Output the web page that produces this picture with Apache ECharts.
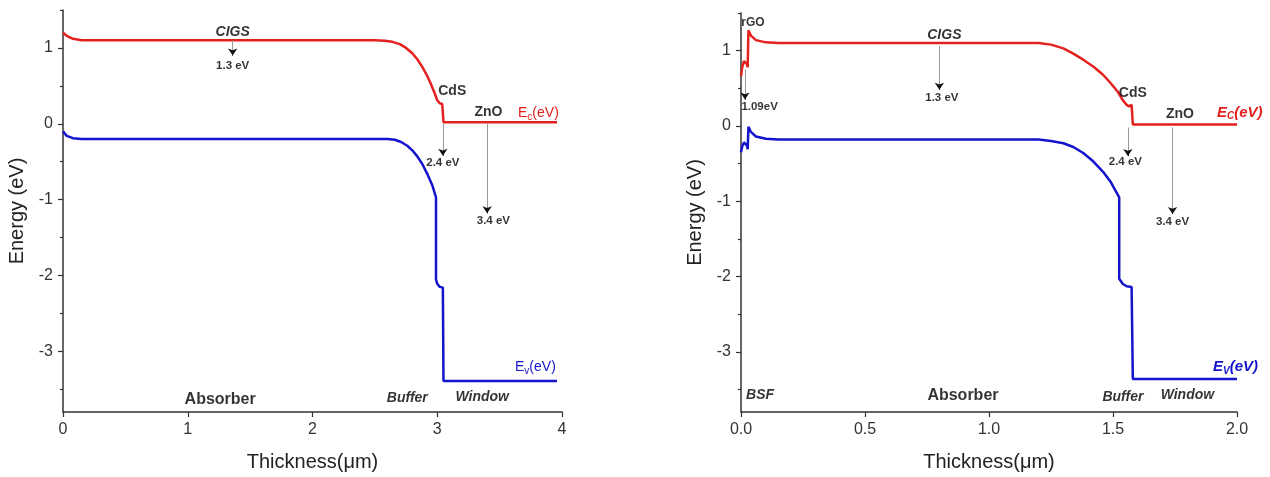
<!DOCTYPE html>
<html>
<head>
<meta charset="utf-8">
<script src="https://cdn.jsdelivr.net/npm/echarts@6/dist/echarts.min.js"></script>
<style>
  html, body { margin: 0; padding: 0; background: #fff; }
  #chart { width: 1270px; height: 477px; }
</style>
</head>
<body>
<div id="chart"></div>
<script>
// band edges, [thickness um, energy eV]
var leftEc = [[0, 1.20], [0.03, 1.16], [0.08, 1.12], [0.15, 1.10], [1.0, 1.10], [2.0, 1.10], [2.5, 1.10],
  [2.58, 1.095], [2.64, 1.08], [2.70, 1.05], [2.75, 1.00], [2.80, 0.93], [2.84, 0.85], [2.88, 0.75],
  [2.92, 0.63], [2.95, 0.52], [2.98, 0.40], [3.0, 0.31], [3.02, 0.27], [3.04, 0.26], [3.045, 0.28],
  [3.05, 0.25], [3.05, 0.02], [3.96, 0.02]];
var leftEv = [[0, -0.10], [0.03, -0.16], [0.08, -0.19], [0.15, -0.20], [1.0, -0.20], [2.0, -0.20], [2.6, -0.20],
  [2.66, -0.21], [2.71, -0.24], [2.76, -0.29], [2.80, -0.35], [2.84, -0.43], [2.88, -0.53], [2.92, -0.66],
  [2.96, -0.81], [2.99, -0.97], [2.99, -2.05], [3.0, -2.11], [3.02, -2.15], [3.045, -2.16], [3.05, -3.39],
  [3.96, -3.39]];
var rightEc = [[0, 0.66], [0.005, 0.78], [0.012, 0.86], [0.02, 0.88], [0.024, 0.82], [0.027, 0.78], [0.03, 1.27],
  [0.04, 1.20], [0.06, 1.14], [0.1, 1.11], [0.15, 1.10], [1.2, 1.10], [1.25, 1.08], [1.30, 1.03], [1.34, 0.96],
  [1.38, 0.88], [1.42, 0.79], [1.46, 0.68], [1.49, 0.57], [1.52, 0.45], [1.54, 0.34], [1.555, 0.28],
  [1.565, 0.26], [1.575, 0.28], [1.58, 0.02], [2.0, 0.02]];
var rightEv = [[0, -0.35], [0.005, -0.27], [0.012, -0.22], [0.02, -0.20], [0.024, -0.26], [0.027, -0.31], [0.03, -0.01],
  [0.04, -0.08], [0.06, -0.14], [0.1, -0.17], [0.15, -0.18], [1.2, -0.18], [1.25, -0.20], [1.30, -0.23],
  [1.34, -0.28], [1.38, -0.36], [1.42, -0.47], [1.46, -0.61], [1.49, -0.74], [1.525, -0.95], [1.525, -2.03],
  [1.54, -2.10], [1.555, -2.13], [1.575, -2.14], [1.58, -3.36], [2.0, -3.36]];

var yMajor = [-3, -2, -1, 0, 1];
var yMinor = [-3.5, -2.5, -1.5, -0.5, 0.5, 1.5];

// text notes [text, x, y, kind]
var leftNotes = [
  ['CIGS', 1.36, 1.21, 'bi'], ['1.3 eV', 1.36, 0.77, 'ev'], ['CdS', 3.12, 0.43, 'b'],
  ['ZnO', 3.41, 0.15, 'b'], ['2.4 eV', 3.045, -0.51, 'ev'], ['3.4 eV', 3.45, -1.28, 'ev'],
  ['Absorber', 1.26, -3.63, 'big'], ['Buffer', 2.76, -3.62, 'bi'], ['Window', 3.36, -3.60, 'bi']
];
var rightNotes = [
  ['rGO', 0.048, 1.37, 'b12'], ['1.09eV', 0.075, 0.25, 'ev'], ['CIGS', 0.82, 1.21, 'bi'],
  ['1.3 eV', 0.81, 0.375, 'ev'], ['CdS', 1.58, 0.43, 'b'], ['ZnO', 1.77, 0.155, 'b'],
  ['2.4 eV', 1.55, -0.48, 'ev'], ['3.4 eV', 1.74, -1.27, 'ev'],
  ['BSF', 0.077, -3.58, 'bi'], ['Absorber', 0.895, -3.58, 'big'], ['Buffer', 1.54, -3.60, 'bi'],
  ['Window', 1.80, -3.58, 'bi']
];
// arrows [x, yFrom, yTo]
var leftArrows = [[1.36, 1.10, 0.90], [3.045, 0.0, -0.42], [3.40, 0.0, -1.18]];
var rightArrows = [[0.016, 0.75, 0.35], [0.80, 1.06, 0.48], [1.56, -0.02, -0.40], [1.74, -0.02, -1.17]];

var FONT = '"Liberation Sans", Arial, sans-serif';
var RED = '#e3211f';
var BLUE = '#1414cc';

var kinds = {
  bi: { fontWeight: 'bold', fontStyle: 'italic', fontSize: 14 },
  b: { fontWeight: 'bold', fontSize: 14 },
  b12: { fontWeight: 'bold', fontSize: 12 },
  ev: { fontWeight: 'bold', fontSize: 11.5 },
  big: { fontWeight: 'bold', fontSize: 16 }
};

function noteSeries(notes, arrows, idx) {
  return {
    type: 'scatter',
    xAxisIndex: idx, yAxisIndex: idx * 2,
    symbolSize: 0, silent: true, z: 5,
    data: notes.map(function (n) {
      var k = kinds[n[3]];
      return {
        value: [n[1], n[2]],
        label: {
          show: true, position: 'inside', formatter: n[0], color: '#000',
          fontFamily: FONT, fontSize: k.fontSize, fontWeight: k.fontWeight, fontStyle: k.fontStyle || 'normal'
        }
      };
    }),
    markLine: {
      silent: true, animation: false, symbol: ['none', 'none'],
      lineStyle: { color: '#999', width: 1, type: 'solid' },
      label: { show: false },
      data: arrows.map(function (a) { return [{ coord: [a[0], a[1]] }, { coord: [a[0], a[2]] }]; })
    }
  };
}

function headSeries(arrows, idx) {
  return {
    type: 'line', xAxisIndex: idx, yAxisIndex: idx * 2, data: [], silent: true,
    markLine: {
      silent: true, animation: false, symbol: ['none', 'arrow'], symbolSize: 7,
      lineStyle: { color: '#111', width: 1, type: 'solid' },
      label: { show: false },
      data: arrows.map(function (a) { return [{ coord: [a[0], a[2] + 0.05] }, { coord: [a[0], a[2]] }]; })
    }
  };
}

function bandLine(data, color, idx, name, lbl) {
  return {
    type: 'line', name: name, xAxisIndex: idx, yAxisIndex: idx * 2,
    data: data, showSymbol: false, smooth: false, z: 3,
    lineStyle: { color: color, width: 2.5 },
    endLabel: lbl
  };
}

function subLabel(color, sub, emph, dx, dy) {
  return {
    show: true, distance: 4, offset: [dx, dy],
    formatter: '{n|E}{s|' + sub + '}{n|(eV)}',
    rich: {
      n: { color: color, fontFamily: FONT, fontSize: emph ? 15 : 14, fontWeight: emph ? 'bold' : 'normal', fontStyle: emph ? 'italic' : 'normal' },
      s: { color: color, fontFamily: FONT, fontSize: 10, fontWeight: emph ? 'bold' : 'normal', fontStyle: emph ? 'italic' : 'normal', padding: [8, 0, 0, 0] }
    }
  };
}

function yAxes(idx) {
  return [{
    type: 'value', gridIndex: idx, min: -3.8, max: 1.5,
    name: 'Energy (eV)', nameLocation: 'middle', nameGap: 36,
    nameTextStyle: { fontFamily: FONT, fontSize: 20, color: '#222' },
    axisLine: { show: true, lineStyle: { color: '#333', width: 1.5 } },
    axisTick: { show: true, customValues: yMajor, length: 5, lineStyle: { color: '#333', width: 1.2 } },
    axisLabel: { customValues: yMajor, fontFamily: FONT, fontSize: 16, color: '#333', margin: 10 },
    splitLine: { show: false }
  }, {
    type: 'value', gridIndex: idx, min: -3.8, max: 1.5, position: 'left',
    axisLine: { show: false },
    axisTick: { show: true, customValues: yMinor, length: 3, lineStyle: { color: '#333', width: 1.2 } },
    axisLabel: { show: false },
    splitLine: { show: false }
  }];
}

function xAxis(idx, max, interval, digits) {
  return {
    type: 'value', gridIndex: idx, min: 0, max: max, interval: interval,
    name: 'Thickness(\u03bcm)', nameLocation: 'middle', nameGap: 40,
    nameTextStyle: { fontFamily: FONT, fontSize: 20, color: '#222' },
    axisLine: { show: true, onZero: false, lineStyle: { color: '#333', width: 1.5 } },
    axisTick: { show: true, length: 5, lineStyle: { color: '#333', width: 1.2 } },
    axisLabel: {
      fontFamily: FONT, fontSize: 16, color: '#333', margin: 10,
      formatter: function (v) { return v.toFixed(digits); }
    },
    splitLine: { show: false }
  };
}

var chart = echarts.init(document.getElementById('chart'), null, { renderer: 'canvas' });
chart.setOption({
  animation: false,
  backgroundColor: '#fff',
  grid: [
    { left: 63, right: 708, top: 10, bottom: 65 },
    { left: 741, right: 33, top: 13, bottom: 65 }
  ],
  xAxis: [xAxis(0, 4, 1, 0), xAxis(1, 2, 0.5, 1)],
  yAxis: yAxes(0).concat(yAxes(1)),
  series: [
    bandLine(leftEc, RED, 0, 'Ec', subLabel(RED, 'c', false, -43, -9)),
    bandLine(leftEv, BLUE, 0, 'Ev', subLabel(BLUE, 'v', false, -46, -14)),
    bandLine(rightEc, RED, 1, 'Ec', subLabel(RED, 'C', true, -24, -12)),
    bandLine(rightEv, BLUE, 1, 'Ev', subLabel(BLUE, 'V', true, -28, -12)),
    noteSeries(leftNotes, leftArrows, 0),
    noteSeries(rightNotes, rightArrows, 1),
    headSeries(leftArrows, 0),
    headSeries(rightArrows, 1)
  ]
});
</script>
</body>
</html>
